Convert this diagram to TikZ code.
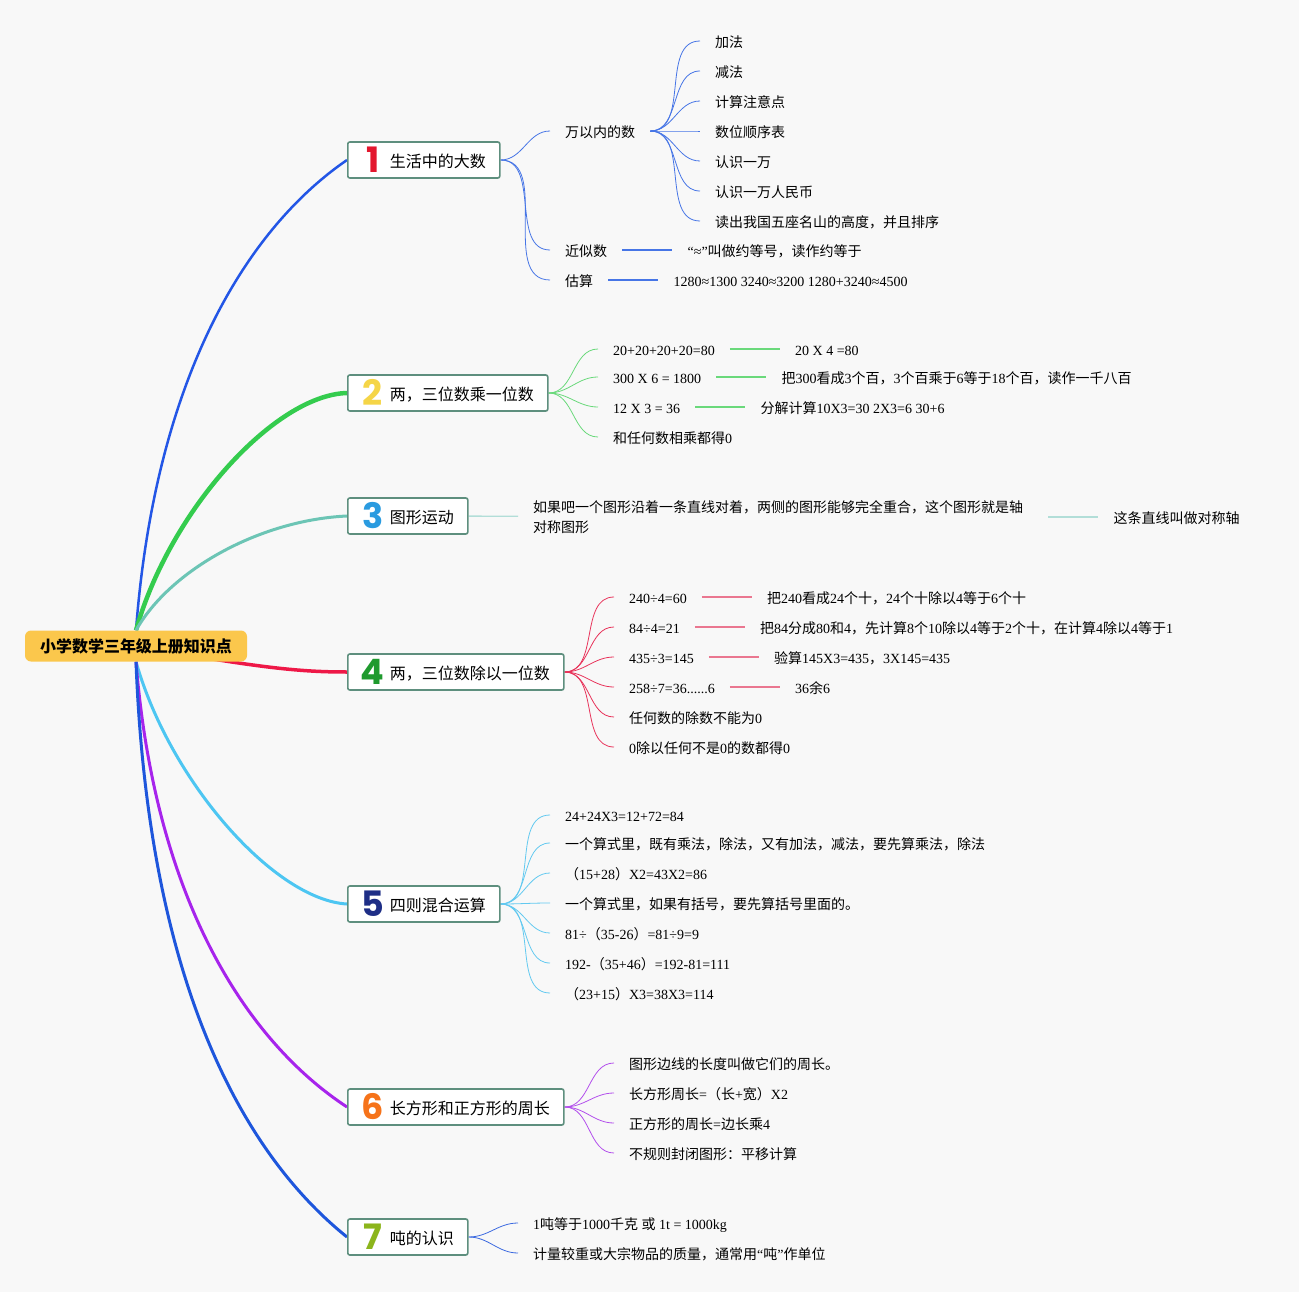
\documentclass[tikz,border=0pt]{standalone}
\usepackage{fontspec}
\setmainfont{Liberation Serif}
\newfontfamily\cjkfont{Noto Sans CJK SC}
\newfontfamily\numfont{Poppins}
\usetikzlibrary{positioning}

% Han characters and full-width punctuation are set in the CJK font
\newXeTeXintercharclass\hanclass
\newcount\hancode
\newcommand\hanrange[2]{%
  \hancode=#1\relax
  \loop
    \XeTeXcharclass\hancode=\hanclass\relax
  \ifnum\hancode<#2\relax
    \advance\hancode by 1\relax
  \repeat}
\hanrange{"3000}{"303F}
\hanrange{"4E00}{"9FFF}
\hanrange{"FF00}{"FFEF}
\XeTeXcharclass"201C=0
\XeTeXcharclass"201D=0
\XeTeXinterchartoks 0 \hanclass = {\cjkfont}
\XeTeXinterchartoks 4095 \hanclass = {\cjkfont}
\XeTeXinterchartoks \hanclass 0 = {\rmfamily}
\XeTeXinterchartoks \hanclass 4095 = {\rmfamily}

\definecolor{pagebg}{HTML}{F8F8F8}
\definecolor{rootfill}{HTML}{FBC74C}
\definecolor{boxline}{HTML}{5E8F7E}
\definecolor{num1}{HTML}{E3172E}
\definecolor{num2}{HTML}{F5D547}
\definecolor{num3}{HTML}{2A9BE0}
\definecolor{num4}{HTML}{1F9A2E}
\definecolor{num5}{HTML}{1E2E86}
\definecolor{num6}{HTML}{F6731A}
\definecolor{num7}{HTML}{8CB51C}
\definecolor{line1}{HTML}{2356E6}
\definecolor{line2}{HTML}{34CC4E}
\definecolor{line3}{HTML}{6CC5B5}
\definecolor{line4}{HTML}{EE1847}
\definecolor{line5}{HTML}{4DC6F2}
\definecolor{line6}{HTML}{A724EC}
\definecolor{line7}{HTML}{1E56DC}
\definecolor{twig1}{HTML}{4675E6}
\definecolor{twig2}{HTML}{6AD97B}
\definecolor{twig3}{HTML}{B2DED8}
\definecolor{twig4}{HTML}{E8335A}
\definecolor{twig5}{HTML}{62C9F0}
\definecolor{twig6}{HTML}{B350EC}
\definecolor{twig7}{HTML}{3C6AE0}
\definecolor{link4}{HTML}{EA7790}

\newcommand\topicnum[2]{\makebox[22pt]{\raisebox{-5pt}{\fontsize{35}{35}\numfont\bfseries\color{#1}#2}}\hspace{6pt}}

\pgfdeclarelayer{wires}
\pgfsetlayers{wires,main}

\begin{document}
\XeTeXinterchartokenstate=1
\begin{tikzpicture}[x=1pt, y=-1pt, node distance=50pt,
    root/.style={fill=rootfill, rounded corners=6pt, minimum width=222pt, minimum height=31pt, inner sep=0pt, font=\fontsize{16}{19}\selectfont\bfseries},
    topic/.style={draw=boxline, line width=1.6pt, fill=white, rounded corners=2pt, anchor=west, inner xsep=14pt, inner ysep=5.5pt, text height=20pt, text depth=5pt, font=\fontsize{16}{19}\selectfont},
    leaf/.style={anchor=west, inner xsep=15pt, inner ysep=2pt, text height=14.5pt, text depth=1pt, font=\fontsize{14}{20}\selectfont},
    note/.style={anchor=west, inner xsep=15pt, inner ysep=2pt, text width=500pt, align=left, font=\fontsize{14}{20}\selectfont},
    branch/.style={line width=2.5pt},
    twig/.style={line width=0.8pt},
    link/.style={line width=1.4pt}]
    \useasboundingbox (0,0) rectangle (1299,1292);
    \begin{pgfonlayer}{wires}
        \fill[pagebg] (0,0) rectangle (1299,1292);
    \end{pgfonlayer}

    \node[root] (root) at (136,646) {小学数学三年级上册知识点};

    \node[topic] (t1) at (347,160) {\topicnum{num1}{1}生活中的大数};
    \node[topic] (t2) at (347,393) {\topicnum{num2}{2}两，三位数乘一位数};
    \node[topic] (t3) at (347,516) {\topicnum{num3}{3}图形运动};
    \node[topic] (t4) at (347,672) {\topicnum{num4}{4}两，三位数除以一位数};
    \node[topic] (t5) at (347,904) {\topicnum{num5}{5}四则混合运算};
    \node[topic] (t6) at (347,1107) {\topicnum{num6}{6}长方形和正方形的周长};
    \node[topic] (t7) at (347,1237) {\topicnum{num7}{7}吨的认识};

    % 1
    \node[leaf] (t1a) at (550,131) {万以内的数};
    \node[leaf] (t1b) at (550,250) {近似数};
    \node[leaf] (t1c) at (550,280) {估算};
    \node[leaf] (t1a1) at (700,41) {加法};
    \node[leaf] (t1a2) at (700,71) {减法};
    \node[leaf] (t1a3) at (700,101) {计算注意点};
    \node[leaf] (t1a4) at (700,131) {数位顺序表};
    \node[leaf] (t1a5) at (700,161) {认识一万};
    \node[leaf] (t1a6) at (700,191) {认识一万人民币};
    \node[leaf] (t1a7) at (700,221) {读出我国五座名山的高度，并且排序};
    \node[leaf, right=of t1b] (t1b1) {“≈”叫做约等号，读作约等于};
    \node[leaf, right=of t1c] (t1c1) {1280≈1300 3240≈3200 1280+3240≈4500};

    % 2
    \node[leaf] (t2a) at (598,349) {20+20+20+20=80};
    \node[leaf] (t2b) at (598,377) {300 X 6 = 1800};
    \node[leaf] (t2c) at (598,407) {12 X 3 = 36};
    \node[leaf] (t2d) at (598,437) {和任何数相乘都得0};
    \node[leaf, right=of t2a] (t2a1) {20 X 4 =80};
    \node[leaf, right=of t2b] (t2b1) {把300看成3个百，3个百乘于6等于18个百，读作一千八百};
    \node[leaf, right=of t2c] (t2c1) {分解计算10X3=30 2X3=6 30+6};

    % 3
    \node[note] (t3a) at (518,517) {如果吧一个图形沿着一条直线对着，两侧的图形能够完全重合，这个图形就是轴\\对称图形};
    \node[leaf, right=of t3a] (t3a1) {这条直线叫做对称轴};

    % 4
    \node[leaf] (t4a) at (614,597) {240÷4=60};
    \node[leaf] (t4b) at (614,627) {84÷4=21};
    \node[leaf] (t4c) at (614,657) {435÷3=145};
    \node[leaf] (t4d) at (614,687) {258÷7=36......6};
    \node[leaf] (t4e) at (614,717) {任何数的除数不能为0};
    \node[leaf] (t4f) at (614,747) {0除以任何不是0的数都得0};
    \node[leaf, right=of t4a] (t4a1) {把240看成24个十，24个十除以4等于6个十};
    \node[leaf, right=of t4b] (t4b1) {把84分成80和4，先计算8个10除以4等于2个十，在计算4除以4等于1};
    \node[leaf, right=of t4c] (t4c1) {验算145X3=435，3X145=435};
    \node[leaf, right=of t4d] (t4d1) {36余6};

    % 5
    \node[leaf] (t5a) at (550,815) {24+24X3=12+72=84};
    \node[leaf] (t5b) at (550,843) {一个算式里，既有乘法，除法，又有加法，减法，要先算乘法，除法};
    \node[leaf] (t5c) at (550,873) {（15+28）X2=43X2=86};
    \node[leaf] (t5d) at (550,903) {一个算式里，如果有括号，要先算括号里面的。};
    \node[leaf] (t5e) at (550,933) {81÷（35-26）=81÷9=9};
    \node[leaf] (t5f) at (550,963) {192-（35+46）=192-81=111};
    \node[leaf] (t5g) at (550,993) {（23+15）X3=38X3=114};

    % 6
    \node[leaf] (t6a) at (614,1063) {图形边线的长度叫做它们的周长。};
    \node[leaf] (t6b) at (614,1093) {长方形周长=（长+宽）X2};
    \node[leaf] (t6c) at (614,1123) {正方形的周长=边长乘4};
    \node[leaf] (t6d) at (614,1153) {不规则封闭图形：平移计算};

    % 7
    \node[leaf] (t7a) at (518,1223) {1吨等于1000千克 或 1t = 1000kg};
    \node[leaf] (t7b) at (518,1253) {计量较重或大宗物品的质量，通常用“吨”作单位};

    \begin{pgfonlayer}{wires}
        \draw[branch, line1] (root.north) .. controls (155,380) and (245,230) .. (t1.west);
        \draw[branch, line2, line width=4.5pt] (root.north) .. controls (170,510) and (275,395) .. (t2.west);
        \draw[branch, line3, line width=3pt] (root.north) .. controls (170,570) and (260,520) .. (t3.west);
        \draw[branch, line4, line width=3.5pt] (root.center) .. controls (260,668) and (300,672) .. (t4.west);
        \draw[branch, line5, line width=3pt] (root.south) .. controls (170,782) and (275,900) .. (t5.west);
        \draw[branch, line6, line width=3pt] (root.south) .. controls (155,898) and (245,1040) .. (t6.west);
        \draw[branch, line7, line width=3pt] (root.south) .. controls (148,978) and (240,1151) .. (t7.west);

        \foreach \n in {t1a,t1b,t1c} \draw[twig, twig1] (t1.east) to[out=0, in=180] (\n.west);
        \foreach \n in {1,...,7} \draw[twig, twig1] (t1a.east) to[out=0, in=180] (t1a\n.west);
        \draw[link, twig1] (t1b) -- (t1b1);
        \draw[link, twig1] (t1c) -- (t1c1);

        \foreach \n in {a,b,c,d} \draw[twig, twig2] (t2.east) to[out=0, in=180] (t2\n.west);
        \foreach \n in {a,b,c} \draw[link, twig2] (t2\n) -- (t2\n1);

        \draw[link, twig3] (t3) -- (t3a);
        \draw[link, twig3] (t3a) -- (t3a1);

        \foreach \n in {a,b,c,d,e,f} \draw[twig, twig4] (t4.east) to[out=0, in=180] (t4\n.west);
        \foreach \n in {a,b,c,d} \draw[link, link4] (t4\n) -- (t4\n1);

        \foreach \n in {a,b,c,d,e,f,g} \draw[twig, twig5] (t5.east) to[out=0, in=180] (t5\n.west);
        \foreach \n in {a,b,c,d} \draw[twig, twig6] (t6.east) to[out=0, in=180] (t6\n.west);
        \foreach \n in {a,b} \draw[twig, twig7] (t7.east) to[out=0, in=180] (t7\n.west);
    \end{pgfonlayer}
\end{tikzpicture}
\end{document}
